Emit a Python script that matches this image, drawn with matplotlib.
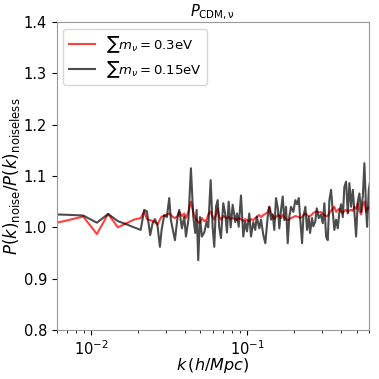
import numpy as np
import matplotlib
matplotlib.use("Agg")
import matplotlib.pyplot as plt

# k bins (h/Mpc)
k = [0.0060, 0.00690, 0.00887, 0.01085, 0.01281, 0.01479, 0.01676, 0.01873, 0.0207, 0.02181,
     0.02269, 0.02382, 0.02468, 0.02553, 0.02649, 0.02749, 0.02818, 0.02929, 0.03048, 0.03153,
     0.03233, 0.0333, 0.0343, 0.0357, 0.03655, 0.03803, 0.03935, 0.04035, 0.04186, 0.04343,
     0.04494, 0.04628, 0.04725, 0.04837, 0.0496, 0.05109, 0.05286, 0.05476, 0.05607, 0.05809,
     0.05983, 0.06126, 0.06282, 0.06442, 0.06595, 0.06763, 0.06997, 0.07207, 0.0739, 0.07578,
     0.07804, 0.08038, 0.08353, 0.08565, 0.08783, 0.09085, 0.09399, 0.09667, 0.09926, 0.1027,
     0.1053, 0.1089, 0.1122, 0.1146, 0.1190, 0.1220, 0.1263, 0.1301, 0.1348, 0.1380,
     0.1415, 0.1451, 0.1485, 0.1523, 0.1569, 0.1599, 0.1640, 0.1681, 0.1721, 0.1765,
     0.1810, 0.1853, 0.1900, 0.1966, 0.2025, 0.2077, 0.2130, 0.2171, 0.2236, 0.2280,
     0.2348, 0.2407, 0.2468, 0.2516, 0.2591, 0.2641, 0.2720, 0.2777, 0.2860, 0.2946,
     0.3035, 0.3107, 0.3186, 0.3267, 0.3345, 0.3430, 0.3517, 0.3601, 0.3693, 0.3786,
     0.3877, 0.3976, 0.4077, 0.4174, 0.4280, 0.4389, 0.4494, 0.4608, 0.4725, 0.4837,
     0.4960, 0.5086, 0.5208, 0.5341, 0.5476, 0.5607, 0.5749, 0.5834, 0.5982, 0.610]

# ratio P(k)_noise / P(k)_noiseless, sum m_nu = 0.3 eV
ratio_03 = [1.009, 1.013, 1.021, 0.987, 1.026, 1.000, 1.008, 1.015, 1.018, 1.031,
            1.016, 1.014, 1.012, 1.010, 1.005, 1.015, 1.021, 1.022, 1.025, 1.027,
            1.024, 1.020, 1.018, 1.022, 1.030, 1.022, 1.027, 1.018, 1.030, 1.050,
            1.030, 1.018, 1.014, 1.010, 1.008, 1.018, 1.012, 1.015, 1.025, 1.031,
            1.020, 1.015, 1.025, 1.037, 1.020, 1.015, 1.022, 1.020, 1.018, 1.020,
            1.016, 1.018, 1.016, 1.014, 1.018, 1.016, 1.012, 1.016, 1.014, 1.012,
            1.016, 1.014, 1.018, 1.020, 1.024, 1.020, 1.024, 1.026, 1.030, 1.040,
            1.028, 1.022, 1.016, 1.020, 1.024, 1.022, 1.018, 1.024, 1.020, 1.016,
            1.014, 1.016, 1.018, 1.020, 1.022, 1.021, 1.020, 1.018, 1.020, 1.024,
            1.027, 1.024, 1.022, 1.022, 1.025, 1.028, 1.030, 1.031, 1.029, 1.030,
            1.026, 1.024, 1.022, 1.022, 1.028, 1.032, 1.036, 1.040, 1.030, 1.034,
            1.036, 1.030, 1.028, 1.032, 1.034, 1.030, 1.033, 1.034, 1.032, 1.040,
            1.036, 1.047, 1.032, 1.025, 1.044, 1.050, 1.030, 1.035, 1.040, 1.031]

# sum m_nu = 0.15 eV
ratio_015 = [1.025, 1.0245, 1.023, 1.009, 1.026, 1.012, 1.006, 1.000, 0.995, 1.034,
             1.031, 0.985, 1.008, 1.016, 1.005, 0.962, 0.995, 1.024, 1.020, 1.057,
             1.014, 0.995, 0.975, 1.021, 1.034, 0.998, 1.021, 0.982, 1.015, 1.115,
             1.021, 0.989, 1.034, 0.936, 1.020, 0.982, 0.990, 1.011, 1.000, 1.092,
             1.000, 0.962, 1.040, 1.053, 1.000, 0.979, 1.047, 1.025, 0.990, 1.050,
             1.000, 1.044, 1.010, 1.027, 1.001, 1.062, 0.982, 1.012, 0.992, 1.027,
             0.982, 1.010, 0.995, 1.021, 0.998, 1.015, 0.985, 0.969, 1.021, 1.040,
             1.015, 1.025, 0.995, 1.057, 1.034, 0.998, 1.034, 1.060, 1.014, 1.040,
             0.969, 1.021, 1.040, 1.030, 1.053, 1.045, 1.057, 1.020, 0.969, 1.020,
             1.040, 0.995, 1.020, 0.989, 1.018, 1.002, 1.012, 1.037, 1.018, 1.025,
             1.008, 1.047, 0.982, 0.975, 1.053, 1.073, 1.030, 0.995, 1.015, 0.998,
             1.030, 1.045, 1.020, 1.079, 1.089, 1.027, 1.086, 1.040, 1.073, 1.031,
             0.982, 1.050, 1.066, 1.030, 1.060, 1.125, 1.034, 1.001, 1.073, 1.090]

fig = plt.figure(figsize=(3.79, 3.79), dpi=100)
ax = fig.add_axes([0.1496, 0.1293, 0.8240, 0.8127])

ax.plot(k, ratio_03, color="red", alpha=0.75, lw=1.5, label=r"$\sum m_\nu = 0.3$eV")
ax.plot(k, ratio_015, color="black", alpha=0.7, lw=1.5, label=r"$\sum m_\nu = 0.15$eV")

ax.set_xscale("log")
ax.set_xlim(0.006, 0.6)
ax.set_ylim(0.8, 1.4)
ax.set_yticks([0.8, 0.9, 1.0, 1.1, 1.2, 1.3, 1.4])
ax.tick_params(labelsize=10.5)
for s in ax.spines.values():
    s.set_color("#999999")

ax.set_xlabel(r"$k\,(h/Mpc)$", fontsize=11.5, labelpad=-1.5)
ax.set_ylabel(r"$P(k)_{\rm noise}/P(k)_{\rm noiseless}$", fontsize=12, labelpad=1)
ax.set_title(r"$P_{\rm CDM,\nu}$", fontsize=10.5, pad=3)
ax.legend(loc="upper left", fontsize=9.5, labelspacing=0.35, handlelength=2.0)

fig.savefig("out.png", dpi=100)
